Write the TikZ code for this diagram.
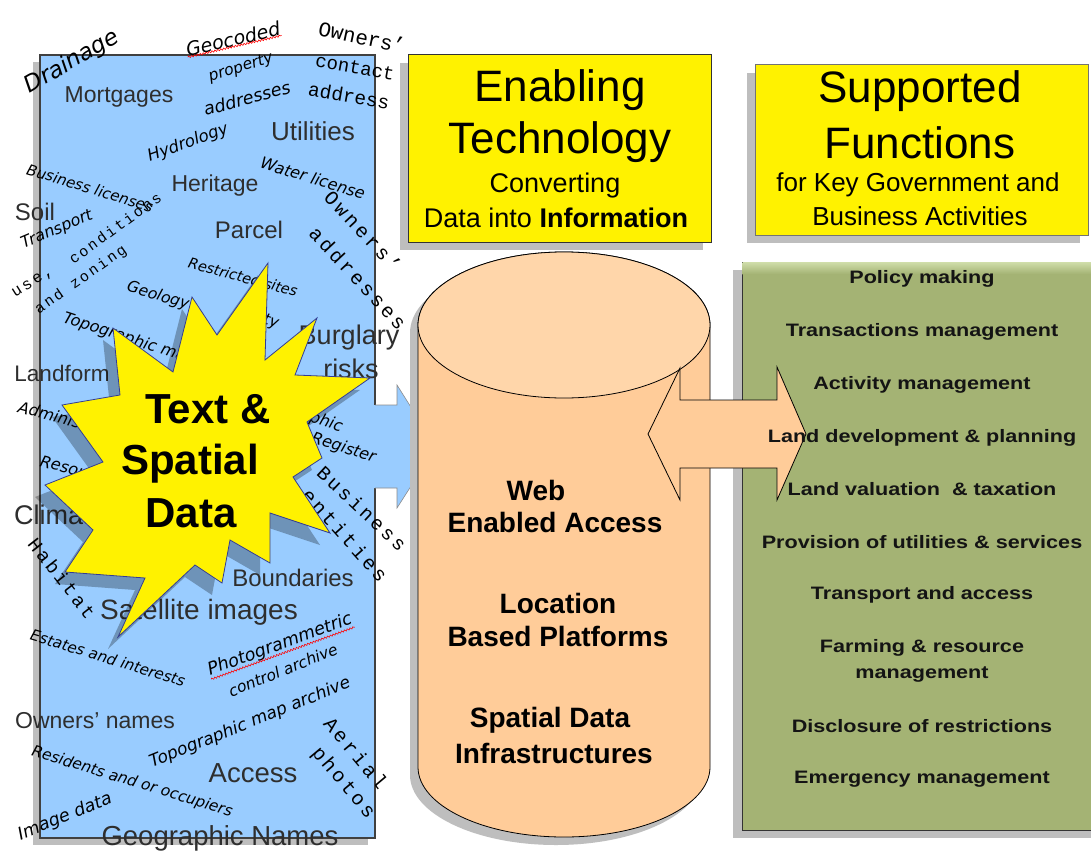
\documentclass[tikz,border=0pt]{standalone}
\usepackage{fontspec}
\setmainfont{Liberation Sans}
\newfontfamily\handf{DejaVu Sans}
\newfontfamily\monosf{Liberation Mono}[LetterSpace=15]
\newfontfamily\monopf{Liberation Mono}
\newfontface\gfont{Liberation Sans Bold}[FakeStretch=1.2]
\usetikzlibrary{shadows,decorations.pathmorphing}
\newcommand\myfs[1]{\fontsize{#1pt}{#1pt}\selectfont}
\definecolor{panelblue}{RGB}{153,204,255}
\definecolor{peach}{RGB}{255,204,153}
\definecolor{peachtop}{RGB}{255,214,170}
\definecolor{olive}{RGB}{164,179,116}
\definecolor{olivetop}{RGB}{206,220,168}
\definecolor{starline}{RGB}{50,60,150}
\definecolor{shadowgray}{RGB}{190,190,190}
\begin{document}
\begin{tikzpicture}[x=1pt,y=-1pt,
  lp/.style={inner sep=0pt, text=black!82, font=\myfs{#1}},
  hand/.style={inner sep=0pt, text=black, font=\handf\itshape\myfs{#1}},
  monow/.style={inner sep=0pt, text=black, font=\monopf\myfs{#1}},
  monosp/.style={inner sep=0pt, text=black, font=\monosf\myfs{#1}},
  title/.style={inner sep=0pt, text=black, font=\myfs{#1}},
  cyltext/.style={inner sep=0pt, text=black, font=\bfseries\myfs{28}},
  gtext/.style={inner sep=0pt, text=black!92, font=\gfont\myfs{18}},
  boxshadow/.style={drop shadow={shadow xshift=-8pt, shadow yshift=-8pt, fill=shadowgray, opacity=1}},
  wavy/.style={red, line width=0.6pt, decorate, decoration={snake, amplitude=0.9pt, segment length=3pt}}
]
\useasboundingbox (0,0) rectangle (1091,853);
\fill[white] (0,0) rectangle (1091,853);

% ---------------- left data panel ----------------
\path[draw=black!75, line width=1.2pt, fill=panelblue, drop shadow={shadow xshift=-7pt, shadow yshift=-7pt, fill=shadowgray, opacity=1}]
  (40,55) rectangle (375,838);

% blue block arrow towards the cylinder
\fill[panelblue] (373,405) -- (397,405) -- (397,385) -- (436,447) -- (397,508) -- (397,488) -- (373,488) -- cycle;
\draw[black!45, line width=0.6pt] (375,405) -- (397,405) -- (397,385) -- (436,447) -- (397,508) -- (397,488) -- (375,488);

% horizontal words
\node[lp=23] (mort) at (119,97) {Mortgages};
\node[lp=26] (util) at (313,131) {Utilities};
\node[lp=23] (heri) at (215,186) {Heritage};
\node[lp=24] (soil) at (35,212) {Soil};
\node[lp=24] (parc) at (249,230) {Parcel};
\node[lp=27] (burg) at (349,338) {Burglary};
\node[lp=27] (risk) at (351,369) {risks};
\node[lp=22.5] (landf) at (62,373) {Landform};
\node[lp=27, anchor=west] (clim) at (14,515) {Climate};
\node[lp=24] (bound) at (293,578) {Boundaries};
\node[lp=28] (satel) at (199,612) {Satellite images};
\node[lp=23] (ownn) at (95,721) {Owners’ names};
\node[lp=27.5] (acces) at (253,773) {Access};

% rotated words
\node[hand=23, rotate=30] (drain) at (72,62) {Drainage};
\node[hand=19, rotate=13] (gcod) at (233,39) {Geocoded};
\draw[wavy] (gcod.south west) -- (gcod.south east);
\node[hand=15.5, rotate=18] (prop) at (241,68) {property};
\node[hand=17.5, rotate=15] (addr) at (247,98) {addresses};
\node[monow=21, rotate=-12] (ownr) at (362,37) {Owners’};
\node[monow=19, rotate=-10] (cont) at (355,67) {contact};
\node[monow=19.5, rotate=-10] (oadd) at (349,96) {address};
\node[hand=16.5, rotate=20] (hydr) at (188,143) {Hydrology};
\node[hand=16, rotate=-17] (wlic) at (313,178) {Water license};
\node[hand=15, rotate=-17] (blic) at (90,188) {Business licenses};
\node[hand=16, rotate=23] (trans) at (57,230) {Transport};
\node[monosp=15, rotate=36] (cond) at (115,228) {conditions};
\node[monosp=16, rotate=32] (usew) at (33,283) {use,};
\node[monosp=15, rotate=35] (zon) at (81,280) {and zoning};
\node[monosp=20, rotate=-47] (own2) at (363,231) {Owners’};
\node[monosp=20, rotate=-47] (add2) at (358,278) {addresses};
\node[hand=14.5, rotate=-15] (rest) at (243,277) {Restricted sites};
\node[hand=15.5, rotate=-17] (geol) at (158,296) {Geology};
\node[hand=15.5, rotate=-17] (tyw) at (271,322) {ty};
\node[hand=16, rotate=-18, anchor=base west] (topo) at (62,322) {Topographic maps};
\node[hand=16, rotate=-15, anchor=base west] (admin) at (17,412) {Administrative areas};
\node[hand=16, rotate=-15, anchor=base west] (reso) at (39,466) {Resources};
\node[hand=16, rotate=-18, anchor=base east] (demo) at (341,432) {Demographic};
\node[hand=16, rotate=-18, anchor=base east] (regi) at (374,463) {Register};
\node[monosp=19.5, rotate=-43] (busn) at (362,508) {Business};
\node[monosp=20, rotate=-48] (enti) at (345,535) {entities};
\node[monosp=19, rotate=-52] (habi) at (62,578) {Habitat};
\node[hand=15.2, rotate=-17] (esta) at (108,658) {Estates and interests};
\node[hand=17.5, rotate=20] (phgr) at (280,645) {Photogrammetric};
\draw[wavy] (phgr.south west) -- (phgr.south east);
\node[hand=15.5, rotate=22] (ctrl) at (283,670) {control archive};
\node[hand=17, rotate=22] (tmap) at (250,723) {Topographic map archive};
\node[monosp=20, rotate=-50] (aeri) at (356,753) {Aerial};
\node[monosp=20, rotate=-50] (phot) at (343,783) {photos};
\node[hand=15.4, rotate=-17] (resi) at (132,782) {Residents and or occupiers};
\node[hand=17.5, rotate=22] (imgd) at (65,817) {Image data};
\node[lp=27.5] (gnam) at (220,838) {Geographic Names};

% ---------------- starburst ----------------
\path[draw=starline, line width=0.8pt, fill=yellow,
      drop shadow={shadow xshift=-10pt, shadow yshift=-12pt, fill=black, opacity=0.28}]
  (268,263) -- (265,360) -- (317,318) -- (295,375) -- (370,378) -- (307,422)
  -- (322,458) -- (293,477) -- (330,533) -- (270,513) -- (270,563) -- (230,540)
  -- (222,583) -- (195,565) -- (118,637) -- (145,578) -- (65,572) -- (93,530)
  -- (45,485) -- (103,462) -- (62,405) -- (120,395) -- (113,328) -- (173,372)
  -- (192,297) -- (217,335) -- cycle;
\node[title=42, font=\bfseries\myfs{42}, anchor=base] (st1) at (208,423) {Text \&};
\node[title=42, font=\bfseries\myfs{42}, anchor=base] (st2) at (190,474) {Spatial};
\node[title=42, font=\bfseries\myfs{42}, anchor=base] (st3) at (191,527) {Data};

% ---------------- title boxes ----------------
\path[draw=black!80, line width=1pt, fill=yellow, boxshadow] (408,55) rectangle (711,242);
\node[title=44] (en1) at (560,90) {Enabling};
\node[title=44] (en2) at (560,142) {Technology};
\node[title=27] (en3) at (555,186) {Converting};
\node[title=27] (en4) at (556,218) {Data into \textbf{Information}};

\path[draw=black!55, line width=1pt, fill=yellow, boxshadow] (755,65) rectangle (1088,235);
\node[title=44] (sf1) at (920,91) {Supported};
\node[title=44] (sf2) at (920,143) {Functions};
\node[title=26] (sf3) at (918,185) {for Key Government and};
\node[title=26] (sf4) at (920,216) {Business Activities};

% ---------------- cylinder ----------------
\path[draw=black, line width=0.8pt, fill=peach, boxshadow]
  (418,325) -- (418,767)
  .. controls (418,805.7) and (483.4,837) .. (564,837)
  .. controls (644.6,837) and (710,805.7) .. (710,767)
  -- (710,325)
  .. controls (710,284.7) and (644.6,252) .. (564,252)
  .. controls (483.4,252) and (418,284.7) .. (418,325) -- cycle;
\draw[black, line width=0.8pt, fill=peachtop] (564,325) ellipse [x radius=146, y radius=73];
\node[cyltext] (c1) at (536,490) {Web};
\node[cyltext] (c2) at (555,522) {Enabled Access};
\node[cyltext] (c3) at (558,603) {Location};
\node[cyltext] (c4) at (558,636) {Based Platforms};
\node[cyltext] (c5) at (550,720) {Spatial Data};
\node[cyltext] (c6) at (554,753) {Infrastructures};

% ---------------- functions panel ----------------
\path[draw=black!80, line width=1pt, fill=olive, drop shadow={shadow xshift=-9pt, shadow yshift=-8pt, fill=shadowgray, opacity=1}]
  (742,262) rectangle (1100,830);
\shade[top color=olivetop, bottom color=olive] (742.5,262.5) rectangle (1099,274);

% double arrow
\path[draw=black, line width=0.8pt, fill=peach]
  (648,434) -- (680,368) -- (680,400) -- (777,400) -- (777,367) -- (806,434)
  -- (777,500) -- (777,468) -- (680,468) -- (680,500) -- cycle;

\node[gtext] (f1) at (922,279) {Policy making};
\node[gtext] (f2) at (922,332) {Transactions management};
\node[gtext] (f3) at (922,385) {Activity management};
\node[gtext] (f4) at (922,438) {Land development \& planning};
\node[gtext] (f5) at (922,489) {Land valuation\ \ \& taxation};
\node[gtext] (f6) at (922,542) {Provision of utilities \& services};
\node[gtext] (f7) at (922,595) {Transport and access};
\node[gtext] (f8) at (922,648) {Farming \& resource};
\node[gtext] (f9) at (922,675) {management};
\node[gtext] (f10) at (922,726) {Disclosure of restrictions};
\node[gtext] (f11) at (922,779) {Emergency management};
\end{tikzpicture}
\end{document}
